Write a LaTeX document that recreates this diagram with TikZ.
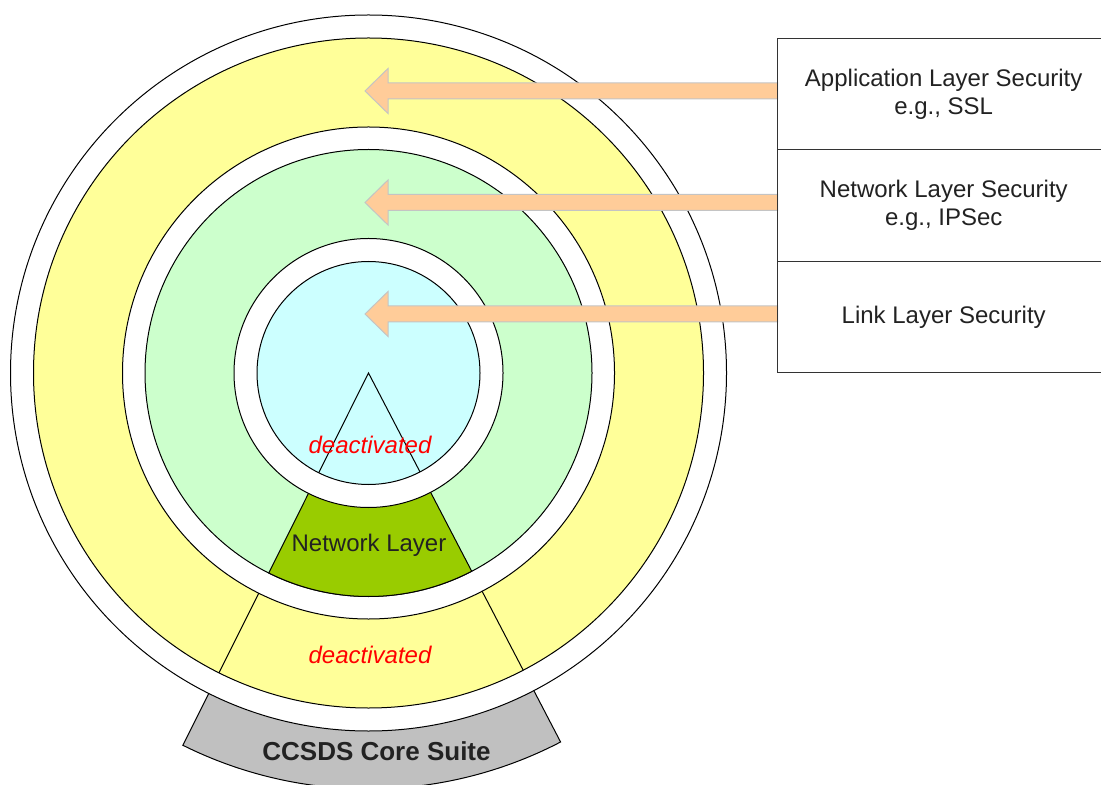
\documentclass[tikz,border=0pt]{standalone}
\usepackage{fontspec}
\setmainfont{Liberation Sans}
\usetikzlibrary{positioning,calc}

\definecolor{appYellow}{HTML}{FFFF99}
\definecolor{netGreen}{HTML}{CCFFCC}
\definecolor{linkCyan}{HTML}{CCFFFF}
\definecolor{layerGreen}{HTML}{99CC00}
\definecolor{suiteGray}{HTML}{C0C0C0}
\definecolor{arrowOrange}{HTML}{FFCC99}
\definecolor{arrowEdge}{HTML}{C4C4C4}
\definecolor{darkText}{HTML}{222222}

\pgfdeclarelayer{back}
\pgfsetlayers{back,main}

% block arrow from a layer box (#1) to its tip (#2)
\newcommand{\secArrow}[2]{%
  \draw[secarrow] (#2) -- ++(23,-22.5) -- ++(0,14.5)
    -- ($(#2 -| #1.west)+(0,-8)$) -- ++(0,16)
    -- ($(#2)+(23,8)$) -- ++(0,14.5) -- cycle;}

\begin{document}
\begin{tikzpicture}[x=0.5pt, y=-0.5pt,
    every node/.style={font=\fontsize{12}{14.2}\selectfont, text=darkText},
    ring/.style={draw=black, line width=0.5pt},
    layerbox/.style={draw=black!80, line width=0.5pt, minimum width=166pt,
      minimum height=55.75pt, outer sep=0pt, align=center},
    secarrow/.style={fill=arrowOrange, draw=arrowEdge, line width=0.5pt},
    offtext/.style={text=red, font=\fontsize{12}{14.2}\selectfont\itshape}]
  \useasboundingbox (0,0) rectangle (1101,785);
  \clip (0,0) rectangle (1101,785);
  %.
  \coordinate (c) at (368.5,373);
  \coordinate (appTip) at (365,91);
  \coordinate (netTip) at (365,202.5);
  \coordinate (linkTip) at (365,314);

  % security boxes
  \node[layerbox, anchor=north west] (app) at (777.7,38.3) {Application Layer Security\\e.g., SSL};
  \node[layerbox, below=0pt of app] (net) {Network Layer Security\\e.g., IPSec};
  \node[layerbox, below=0pt of net] (link) {Link Layer Security};

  % labels
  \node[font=\fontsize{13}{15}\selectfont\bfseries] (suite) at (376.5,751) {CCSDS Core Suite};
  \node[offtext] (offLink) at (370,445) {deactivated};
  \node (netLayer) at (369,545) {Network Layer};
  \node[offtext] (offApp) at (370,655) {deactivated};

  \begin{pgfonlayer}{back}
    % core suite
    \draw[ring, fill=suiteGray] ($(c)+(243.5:170pt)$) -- ($(c)+(243.5:208pt)$)
      arc[start angle=243.5, end angle=297.5, radius=208pt] -- ($(c)+(297.5:170pt)$) -- cycle;
    % application ring
    \draw[ring, fill=white] (c) circle[radius=179pt];
    \draw[ring, fill=appYellow] (c) circle[radius=167.5pt];
    \draw[ring] ($(c)+(243.5:123pt)$) -- ($(c)+(243.5:167.5pt)$);
    \draw[ring] ($(c)+(297.5:123pt)$) -- ($(c)+(297.5:167.5pt)$);
    % network ring
    \draw[ring, fill=white] (c) circle[radius=123pt];
    \draw[ring, fill=netGreen] (c) circle[radius=111.75pt];
    \draw[ring, fill=layerGreen] (c) -- ($(c)+(243.5:111.75pt)$)
      arc[start angle=243.5, end angle=297.5, radius=111.75pt] -- cycle;
    % link ring
    \draw[ring, fill=white] (c) circle[radius=67.25pt];
    \draw[ring, fill=linkCyan] (c) circle[radius=55.75pt];
    \draw[ring] ($(c)+(243.5:55.75pt)$) -- (c) -- ($(c)+(297.5:55.75pt)$);
    % arrows
    \secArrow{app}{appTip}
    \secArrow{net}{netTip}
    \secArrow{link}{linkTip}
  \end{pgfonlayer}
  %.
\end{tikzpicture}
\end{document}
